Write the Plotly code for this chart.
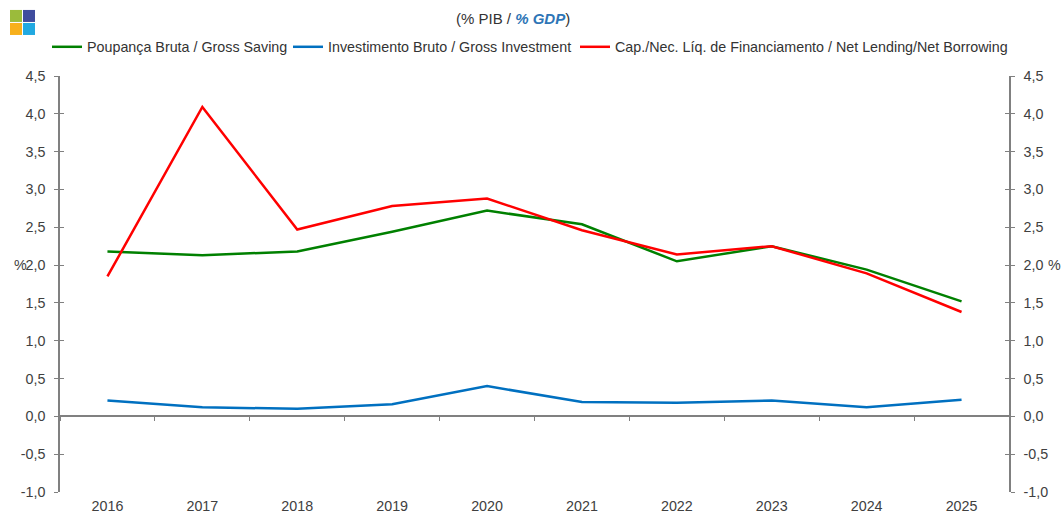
import plotly.graph_objects as go

years = ["2016", "2017", "2018", "2019", "2020", "2021", "2022", "2023", "2024", "2025"]
gross_saving = [2.18, 2.13, 2.18, 2.44, 2.72, 2.54, 2.05, 2.25, 1.94, 1.52]
gross_investment = [0.21, 0.12, 0.10, 0.16, 0.40, 0.19, 0.18, 0.21, 0.12, 0.22]
net_lending = [1.85, 4.09, 2.47, 2.78, 2.88, 2.46, 2.14, 2.25, 1.89, 1.38]

y_ticks = [-1.0, -0.5, 0.0, 0.5, 1.0, 1.5, 2.0, 2.5, 3.0, 3.5, 4.0, 4.5]
y_ticklabels = ["-1,0", "-0,5", "0,0", "0,5", "1,0", "1,5", "2,0", "2,5", "3,0", "3,5", "4,0", "4,5"]

names = [
    "Poupança Bruta / Gross Saving",
    "Investimento Bruto / Gross Investment",
    "Cap./Nec. Líq. de Financiamento / Net Lending/Net Borrowing",
]
colors = ["#008000", "#0070C0", "#FF0000"]
legend_ids = ["legend", "legend2", "legend3"]
legend_line_start = [52, 293, 580]   # window px where each legend line sample starts

y_min, y_max = -1.0, 4.5
font_family = "Liberation Sans, Arial, sans-serif"
axis_color = "#808080"
text_color = "#404040"
FS = 14.3

W, H = 1061, 513
PLOT_TOP, PLOT_BOTTOM, PLOT_LEFT, PLOT_RIGHT = 76, 491.7, 60, 1009
PLOT_W = PLOT_RIGHT - PLOT_LEFT
PLOT_H = PLOT_BOTTOM - PLOT_TOP


def py_to_paper(py):
    return (PLOT_BOTTOM - py) / PLOT_H


def px_to_paper(px):
    return (px - PLOT_LEFT) / PLOT_W


fig = go.Figure()
for name, vals, col, lg in zip(names, [gross_saving, gross_investment, net_lending],
                               colors, legend_ids):
    fig.add_trace(go.Scatter(x=years, y=vals, name=name, mode="lines", legend=lg,
                             line=dict(color=col, width=2.5)))

# invisible helper trace so the zero-line category axis is rendered
fig.add_trace(go.Scatter(x=[0, 9], y=[0, 0], xaxis="x2", yaxis="y", mode="lines",
                         line=dict(width=0), showlegend=False, hoverinfo="skip"))

zero_pos = (0 - y_min) / (y_max - y_min)

common_y = dict(range=[y_min, y_max], showgrid=False, zeroline=False, automargin=False)

legend_layout = {}
for lg, start in zip(legend_ids, legend_line_start):
    legend_layout[lg] = dict(orientation="h", xref="container", yref="container",
                             x=(start - 5) / W, xanchor="left", y=1 - 47 / H,
                             yanchor="middle", font=dict(size=FS, color="#333333"),
                             itemwidth=30, bgcolor="rgba(0,0,0,0)", borderwidth=0)

fig.update_layout(
    width=W, height=H,
    margin=dict(l=PLOT_LEFT, r=W - PLOT_RIGHT, t=PLOT_TOP, b=H - PLOT_BOTTOM,
                autoexpand=False),
    paper_bgcolor="white", plot_bgcolor="white",
    font=dict(family=font_family, size=FS, color=text_color),
    showlegend=True,
    **legend_layout,
    xaxis=dict(type="category", range=[-0.5, 9.5], showline=False, showgrid=False,
               ticks="", tickfont=dict(size=FS, color=text_color), zeroline=False,
               automargin=False, ticklabelstandoff=4),
    xaxis2=dict(overlaying="x", anchor="free", position=zero_pos, range=[-0.5, 9.5],
                showline=True, linecolor=axis_color, linewidth=1.5, showgrid=False,
                tickvals=[i + 0.5 for i in range(-1, 10)], ticks="outside", ticklen=4,
                tickcolor=axis_color, showticklabels=False, zeroline=False, automargin=False),
    yaxis=dict(**common_y, tickvals=y_ticks, ticktext=y_ticklabels,
               showline=True, linecolor=axis_color, linewidth=1.5,
               ticks="outside", ticklen=4, tickcolor=axis_color,
               ticklabelstandoff=6, tickfont=dict(size=FS, color=text_color)),
    yaxis2=dict(**common_y, tickvals=y_ticks, ticktext=y_ticklabels,
                overlaying="y", side="right", anchor="x", showline=True, linecolor=axis_color,
                linewidth=1.5, ticks="outside", ticklen=4,
                tickcolor=axis_color, ticklabelstandoff=6,
                tickfont=dict(size=FS, color=text_color)),
    yaxis3=dict(**common_y, tickvals=y_ticks, overlaying="y", side="left",
                showline=False, ticks="inside", ticklen=4,
                tickcolor=axis_color, showticklabels=False),
    yaxis4=dict(**common_y, tickvals=y_ticks, overlaying="y", side="right",
                showline=False, ticks="inside", ticklen=4,
                tickcolor=axis_color, showticklabels=False),
)

# dummy traces to render the right / inner tick axes
for ya in ["y2", "y3", "y4"]:
    fig.add_trace(go.Scatter(x=[years[0]], y=[None], yaxis=ya, mode="lines",
                             showlegend=False, hoverinfo="skip"))

# Title
fig.add_annotation(text="(% PIB / <b><i><span style='color:#2E75B6'>% GDP</span></i></b>)",
                   xref="paper", yref="paper", x=px_to_paper(513), y=py_to_paper(19),
                   yanchor="middle", xanchor="center", showarrow=False,
                   font=dict(size=15, color="#333333"))

# % unit labels
fig.add_annotation(text="%", xref="paper", yref="y", x=0, y=2.0, xanchor="right",
                   xshift=-31, showarrow=False, font=dict(size=FS, color=text_color))
fig.add_annotation(text="%", xref="paper", yref="y", x=1, y=2.0, xanchor="left",
                   xshift=37, showarrow=False, font=dict(size=FS, color=text_color))

# logo squares (window pixel positions)
logo = [("#9BBB3B", 10, 10), ("#3F4C9E", 23, 10), ("#F7B01C", 10, 23), ("#21A9E1", 23, 23)]
for col, px, py in logo:
    fig.add_shape(type="rect", xref="paper", yref="paper",
                  x0=px_to_paper(px), x1=px_to_paper(px + 12),
                  y0=py_to_paper(py), y1=py_to_paper(py + 12),
                  fillcolor=col, line=dict(width=0), layer="above")

fig.write_html("out.html",
               config={"displayModeBar": False},
               post_script="document.body.style.margin='0';"
                           "document.body.style.overflow='hidden';")
